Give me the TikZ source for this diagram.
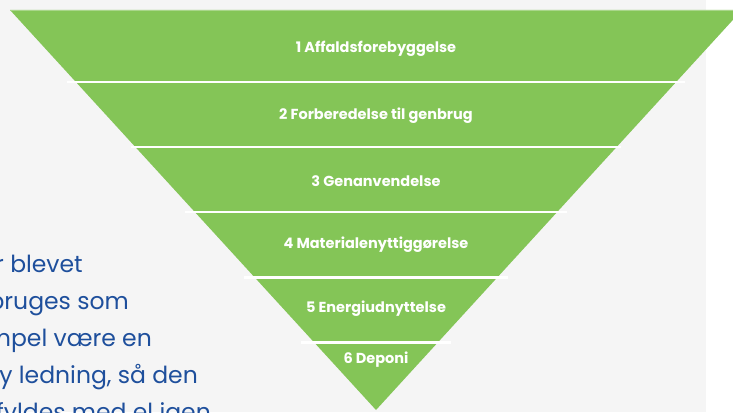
\documentclass[tikz,border=0pt]{standalone}
\usepackage{fontspec}
\setmainfont{Poppins}
\newfontfamily\labelfont{Poppins}[UprightFont=* Bold]
\definecolor{bggray}{HTML}{F5F5F5}
\definecolor{pgreen}{HTML}{84C557}
\definecolor{pgreenlight}{HTML}{A9D68A}
\definecolor{tblue}{HTML}{1E4F9C}
\tikzset{
  sepline/.style={white, line width=2.6pt},
  steplabel/.style={font=\labelfont\fontsize{14.5}{17}\selectfont, text=white, inner sep=0pt, anchor=center},
  bodytext/.style={font=\fontsize{23.5}{27}\selectfont, text=tblue, inner sep=0pt, anchor=base east}
}
\begin{document}
\begin{tikzpicture}[x=1pt,y=-1pt]
\useasboundingbox (0,0) rectangle (733,412);
\clip (0,0) rectangle (733,412);
\fill[white] (0,0) rectangle (733,412);
\fill[bggray] (0,0) rectangle (706,412);
% funnel
\fill[pgreen] (10,10) -- (742,10) -- (376,410) -- cycle;
\draw[pgreenlight, line width=1pt] (10,10.5) -- (742,10.5);
% separators
\coordinate (s1l) at (67,82);   \coordinate (s1r) at (685,82);
\coordinate (s2l) at (131,147); \coordinate (s2r) at (621,147);
\coordinate (s3l) at (185,212); \coordinate (s3r) at (567,212);
\coordinate (s4l) at (244,277.5); \coordinate (s4r) at (508,277.5);
\coordinate (s5l) at (301,342.5); \coordinate (s5r) at (451,342.5);
\draw[sepline] (s1l) -- (s1r);
\draw[sepline] (s2l) -- (s2r);
\draw[sepline] (s3l) -- (s3r);
\draw[sepline] (s4l) -- (s4r);
\draw[sepline] (s5l) -- (s5r);
% labels
\node[steplabel] (l1) at (376,49) {1 Affaldsforebyggelse};
\node[steplabel] (l2) at (376,116) {2 Forberedelse til genbrug};
\node[steplabel] (l3) at (376,181) {3 Genanvendelse};
\node[steplabel] (l4) at (376,245) {4 Materialenyttiggørelse};
\node[steplabel] (l5) at (376,309) {5 Energiudnyttelse};
\node[steplabel] (l6) at (376,360) {6 Deponi};
% body text
\node[bodytext] (t1) at (83,272) {r blevet};
\node[bodytext] (t2) at (129,309) {bruges som};
\node[bodytext] (t3) at (152,346) {mpel være en};
\node[bodytext] (t4) at (198,383) {y ledning, så den};
\node[bodytext] (t5) at (211,420) {fyldes med el igen};
\end{tikzpicture}
\end{document}
